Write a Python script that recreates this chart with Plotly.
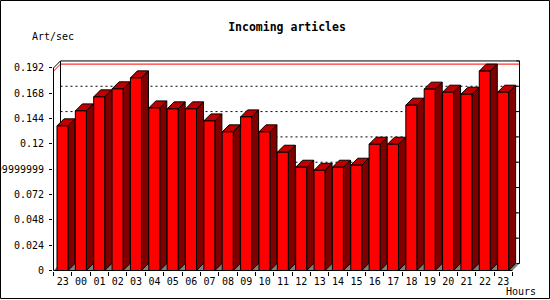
import plotly.graph_objects as go

# ---- data ----
hours = ["23", "00", "01", "02", "03", "04", "05", "06", "07", "08", "09", "10",
         "11", "12", "13", "14", "15", "16", "17", "18", "19", "20", "21", "22", "23"]
rates = [0.1371, 0.1513, 0.1646, 0.1722, 0.1826, 0.1541, 0.1532, 0.1532, 0.1418,
         0.1314, 0.1456, 0.1314, 0.1121, 0.0979, 0.0950, 0.0979, 0.0998, 0.1197,
         0.1197, 0.1567, 0.1719, 0.1690, 0.1671, 0.1890, 0.1690]
y_tick_values = [0, 0.024, 0.048, 0.072, 0.096, 0.12, 0.144, 0.168, 0.192]
y_tick_labels = ["0", "0.024", "0.048", "0.072", "0.09599999999999999",
                 "0.12", "0.144", "0.168", "0.192"]

# ---- geometry (axis units) ----
W, H = 550, 300
ML, MR, MT, MB = 53, 29, 59, 29
PX_X = 18.36          # px per category
PX_Y = 1055.0         # px per unit value
D = 7 / PX_X          # depth in x units
DY = 7 / PX_Y         # depth in y units
N = len(rates)
YTOP = y_tick_values[-1]
BOFF, BW = 0.19, 0.6

plot_w = W - ML - MR
plot_h = H - MT - MB
x0 = (ML - 53.5) / PX_X
x1 = x0 + plot_w / PX_X
y0 = -0.5 / PX_Y
y1 = y0 + plot_h / PX_Y

FONT = "DejaVu Sans Mono"
traces = []

def poly_trace(xs, ys, fill, line_color="black", width=1):
    return go.Scatter(x=xs, y=ys, mode="lines", fill="toself", fillcolor=fill,
                      line=dict(color=line_color, width=width), hoverinfo="skip",
                      showlegend=False)

def line_trace(xs, ys, color="black", dash="solid", width=1):
    return go.Scatter(x=xs, y=ys, mode="lines", line=dict(color=color, width=width, dash=dash),
                      hoverinfo="skip", showlegend=False, connectgaps=False)

# floor
traces.append(go.Scatter(x=[0, N, N + D, D, 0], y=[0, 0, DY, DY, 0], mode="lines",
                         fill="toself", fillcolor="#808080", line=dict(width=0),
                         hoverinfo="skip", showlegend=False))

# back grid lines (dotted)
gx, gy = [], []
for v in y_tick_values[1:-1]:
    gx += [D, N + D, None]
    gy += [v + DY, v + DY, None]
traces.append(line_trace(gx, gy, dash="2px,3px"))

# right back tick marks
tx, ty = [], []
for v in y_tick_values:
    tx += [N + D - 0.17, N + D, None]
    ty += [v + DY, v + DY, None]
traces.append(line_trace(tx, ty))

# max line (red)
M = max(rates)
traces.append(line_trace([0, D, N + D], [M, M + DY, M + DY], color="#ff0000"))

# frame
traces.append(line_trace([0, 0, D, N + D, N + D], [0, YTOP, YTOP + DY, YTOP + DY, DY]))
traces.append(line_trace([D, D], [DY, YTOP + DY]))
traces.append(line_trace([0, N], [0, 0]))

# bars
sx, sy, tpx, tpy, fx, fy = [], [], [], [], [], []
for i, v in enumerate(rates):
    a = i + BOFF
    b = a + BW
    sx += [b, b + D, b + D, b, b, None]
    sy += [0, DY, v + DY, v, 0, None]
    tpx += [a, b, b + D, a + D, a, None]
    tpy += [v, v, v + DY, v + DY, v, None]
    fx += [a, b, b, a, a, None]
    fy += [0, 0, v, v, 0, None]
traces.append(poly_trace(sx, sy, "#800000"))
traces.append(poly_trace(tpx, tpy, "#c00000"))
traces.append(poly_trace(fx, fy, "#ff0000"))

fig = go.Figure(traces)

fig.update_layout(
    width=W, height=H, autosize=False,
    margin=dict(l=ML, r=MR, t=MT, b=MB, pad=0),
    paper_bgcolor="white", plot_bgcolor="white",
    showlegend=False,
    title=dict(text="Incoming articles", x=0.5, xref="paper", xanchor="center",
               y=1 - 27 / H, yref="container", yanchor="middle",
               font=dict(family=FONT, size=11.5, color="black", weight="bold")),
    xaxis=dict(range=[x0, x1], showgrid=False, zeroline=False, showline=False,
               tickmode="array", tickvals=[i + 0.5 for i in range(N)], ticktext=hours,
               ticks="outside", ticklen=1, tickcolor="rgba(0,0,0,0)",
               tickfont=dict(family=FONT, size=10, color="black"),
               minor=dict(tickmode="linear", tick0=0, dtick=1, ticks="outside",
                          ticklen=4, tickcolor="black", tickwidth=1, showgrid=False),
               automargin=False, fixedrange=True),
    yaxis=dict(range=[y0, y1], showgrid=False, zeroline=False, showline=False,
               tickmode="array", tickvals=y_tick_values, ticktext=y_tick_labels,
               ticks="outside", ticklen=3, tickcolor="black", tickwidth=1,
               ticklabelstandoff=3,
               tickfont=dict(family=FONT, size=10, color="black"),
               automargin=False, fixedrange=True),
    annotations=[
        dict(text="Art/sec", xref="paper", yref="paper",
             x=(30 - ML) / plot_w, y=(H - MB - 37) / plot_h,
             xanchor="left", yanchor="middle", showarrow=False,
             font=dict(family=FONT, size=10, color="black")),
        dict(text="Hours", xref="paper", yref="paper",
             x=(504 - ML) / plot_w, y=(H - MB - 291.5) / plot_h,
             xanchor="left", yanchor="middle", showarrow=False,
             font=dict(family=FONT, size=10, color="black")),
    ],
    shapes=[dict(type="rect", xref="paper", yref="paper",
                 x0=(0.5 - ML) / plot_w, x1=(549.5 - ML) / plot_w,
                 y0=(H - MB - 298.5) / plot_h, y1=(H - MB - 0.5) / plot_h,
                 line=dict(color="black", width=1), fillcolor="rgba(0,0,0,0)")],
)

fig.write_html("out.html")
